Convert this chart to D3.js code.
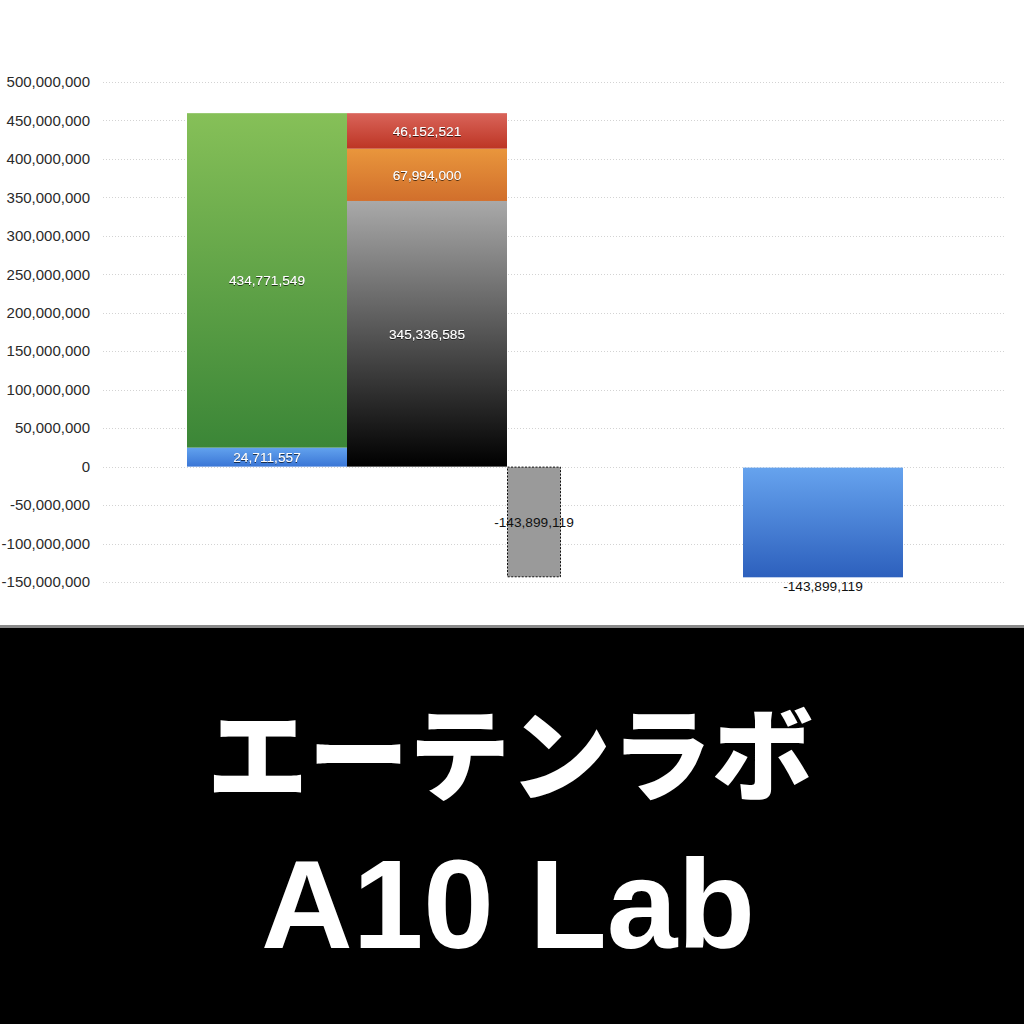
<!DOCTYPE html>
<html>
<head>
<meta charset="utf-8">
<script src="https://cdn.jsdelivr.net/npm/d3@7"></script>
<style>
  html, body { margin: 0; padding: 0; background: #fff; }
  svg { display: block; }
</style>
</head>
<body>
<svg id="chart"></svg>
<script>
// data
const yTicks = [500000000, 450000000, 400000000, 350000000, 300000000, 250000000,
  200000000, 150000000, 100000000, 50000000, 0, -50000000, -100000000, -150000000];
const leftSeries = ["small", "large"];
const leftValues = [24711557, 434771549];
const rightSeries = ["base", "middle", "top"];
const rightValues = [345336585, 67994000, 46152521];
const gapValues = [-143899119];
const resultValues = [-143899119];
const titleJa = "エーテンラボ";
const titleEn = "A10 Lab";

const width = 1024;
const height = 1024;
const margin = { top: 82, left: 103, right: 19, bottom: 442 };

const svg = d3.select("#chart").attr("width", width).attr("height", height);

const y = d3.scaleLinear().domain([-150000000, 500000000])
  .range([height - margin.bottom, margin.top]);
// column slots: one slot = one wide bar
const x = d3.scaleLinear().domain([0, 5.6375]).range([margin.left, width - margin.right]);

const defs = svg.append("defs");
const grad = (id, c0, c1) => {
  const g = defs.append("linearGradient").attr("id", id)
    .attr("x1", 0).attr("y1", 0).attr("x2", 0).attr("y2", 1);
  g.append("stop").attr("offset", "0%").attr("stop-color", c0);
  g.append("stop").attr("offset", "100%").attr("stop-color", c1);
};
grad("g-small", "#62a2ee", "#3a76d6");
grad("g-large", "#86c058", "#3b8637");
grad("g-base", "#a9a9a9", "#000000");
grad("g-middle", "#e9963c", "#d16f2c");
grad("g-top", "#d9645a", "#bd3524");
grad("g-result", "#66a3ee", "#2d60bd");

const shadow = defs.append("filter").attr("id", "shadow");
shadow.append("feDropShadow").attr("dx", 0).attr("dy", 0.8)
  .attr("stdDeviation", 0.6).attr("flood-color", "#000").attr("flood-opacity", 0.8);

// grid
svg.append("g").selectAll("line").data(yTicks).join("line")
  .attr("x1", x(0)).attr("x2", x(5.6375))
  .attr("y1", d => Math.round(y(d)) + 0.5).attr("y2", d => Math.round(y(d)) + 0.5)
  .attr("stroke", "#c8c8c8").attr("stroke-width", 0.8)
  .attr("stroke-dasharray", "1,2");

// y axis labels (plain hyphen for negatives)
const fmt = v => d3.format(",")(v).replace("\u2212", "-");
svg.append("g").selectAll("text").data(yTicks).join("text")
  .attr("x", 90).attr("y", d => y(d)).attr("dy", "0.35em")
  .attr("text-anchor", "end")
  .style("font-family", "'Liberation Sans', Arial, sans-serif").style("font-size", "15px")
  .attr("fill", "#2a2a2a")
  .text(d => fmt(d));

const labelStyle = sel => sel
  .style("font-family", "'Liberation Sans', Arial, sans-serif").style("font-size", "13.7px")
  .attr("text-anchor", "middle").attr("dy", "0.35em");

// stacked column helper
const drawStack = (series, values, x0, x1) => {
  const stacked = [];
  let acc = 0;
  values.forEach((v, i) => { stacked.push({ key: series[i], v, y0: acc, y1: acc + v }); acc += v; });
  const g = svg.append("g");
  g.selectAll("rect").data(stacked).join("rect")
    .attr("x", x(x0)).attr("width", x(x1) - x(x0))
    .attr("y", d => y(d.y1)).attr("height", d => y(d.y0) - y(d.y1))
    .attr("fill", d => `url(#g-${d.key})`);
  g.selectAll("text").data(stacked).join("text")
    .call(labelStyle)
    .attr("x", (x(x0) + x(x1)) / 2)
    .attr("y", d => (y(d.y0) + y(d.y1)) / 2)
    .attr("fill", "#fff").attr("filter", "url(#shadow)")
    .text(d => fmt(d.v));
};

drawStack(leftSeries, leftValues, 0.525, 1.525);
drawStack(rightSeries, rightValues, 1.525, 2.525);

// dashed gap column
const gg = svg.append("g");
gg.selectAll("rect").data(gapValues).join("rect")
  .attr("x", x(2.525) + 0.5).attr("width", x(2.8625) - x(2.525) - 1)
  .attr("y", y(0) + 0.5).attr("height", d => y(d) - y(0) - 1)
  .attr("fill", "#9a9a9a").attr("stroke", "#111").attr("stroke-width", 1)
  .attr("stroke-dasharray", "2,1.5");
gg.selectAll("text").data(gapValues).join("text")
  .call(labelStyle)
  .attr("x", (x(2.525) + x(2.8625)) / 2).attr("y", d => (y(0) + y(d)) / 2)
  .attr("fill", "#111").text(d => fmt(d));

// result column
const rg = svg.append("g");
rg.selectAll("rect").data(resultValues).join("rect")
  .attr("x", x(4)).attr("width", x(5) - x(4))
  .attr("y", y(0) + 1).attr("height", d => y(d) - y(0) - 1)
  .attr("fill", "url(#g-result)");
rg.selectAll("text").data(resultValues).join("text")
  .call(labelStyle)
  .attr("x", (x(4) + x(5)) / 2).attr("y", d => y(d) + 9)
  .attr("fill", "#111").text(d => fmt(d));

// banner
svg.append("rect").attr("x", 0).attr("y", 626).attr("width", width).attr("height", height - 626)
  .attr("fill", "#000");
svg.append("rect").attr("x", 0).attr("y", 625).attr("width", width).attr("height", 3)
  .attr("fill", "#8a8a8a");
svg.append("text").attr("x", 510).attr("y", 793)
  .attr("text-anchor", "middle").attr("fill", "#fff")
  .style("font-family", "'Noto Sans CJK JP', sans-serif").style("font-weight", 900)
  .style("font-size", "101px")
  .text(titleJa);
svg.append("text").attr("x", 508).attr("y", 948)
  .attr("text-anchor", "middle").attr("fill", "#fff")
  .style("font-family", "'Liberation Sans', Arial, sans-serif").style("font-weight", 700)
  .style("font-size", "127px")
  .text(titleEn);
</script>
</body>
</html>
